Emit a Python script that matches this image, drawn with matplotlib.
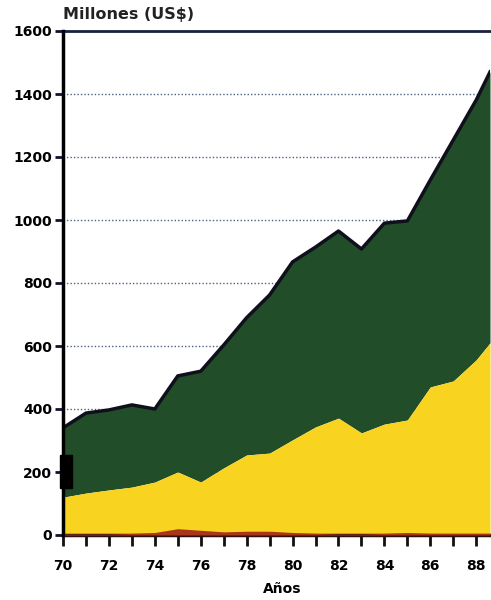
import matplotlib
matplotlib.use("Agg")
import matplotlib.pyplot as plt
import numpy as np

years = [70, 71, 72, 73, 74, 75, 76, 77, 78, 79, 80, 81, 82, 83, 84, 85, 86, 87, 88, 88.6]
total = [340, 387, 397, 413, 400, 505, 520, 603, 690, 762, 867, 914, 965, 908, 990, 997, 1127, 1254, 1381, 1470]
yellow_top = [120, 133, 143, 152, 168, 200, 168, 213, 254, 260, 302, 343, 371, 324, 352, 365, 470, 489, 556, 610]
red = [3, 3, 3, 5, 8, 20, 15, 10, 12, 12, 8, 5, 3, 3, 5, 8, 5, 5, 5, 5]

yticks = [0, 200, 400, 600, 800, 1000, 1200, 1400, 1600]
xticks = [70, 72, 74, 76, 78, 80, 82, 84, 86, 88]

fig = plt.figure(figsize=(4.91, 6), dpi=100)
ax = fig.add_axes([63/491, 65/600, 427/491, 504/600])

green_c = "#214d28"
yellow_c = "#f8d420"
red_c = "#a8361a"

ax.fill_between(years, yellow_top, total, color=green_c, lw=0, zorder=2)
ax.fill_between(years, 0, yellow_top, color=yellow_c, lw=0, zorder=2)
ax.fill_between(years, 0, red, color=red_c, lw=0, zorder=3)
ax.plot(years, total, color="#10101c", lw=2.5, zorder=4, solid_joinstyle="round")

ax.set_xlim(70, 88.6)
ax.set_ylim(0, 1600)

for y in yticks[1:-1]:
    ax.axhline(y, color="#506080", lw=1.0, ls=(0, (1, 1.5)), zorder=1)

ax.set_yticks(yticks)
ax.set_yticklabels([str(v) for v in yticks], fontsize=10, fontweight="bold")
ax.set_xticks(xticks)
ax.set_xticks(list(range(70, 89)), minor=True)
ax.set_xticklabels([str(v) for v in xticks], fontsize=10, fontweight="bold")

ax.tick_params(axis="y", direction="out", length=6, width=2, pad=2, color="#111133")
ax.tick_params(axis="x", which="both", direction="out", length=8, width=2, pad=9, color="#111111")

ax.spines["right"].set_visible(False)
ax.spines["left"].set_linewidth(2.5)
ax.spines["bottom"].set_linewidth(2.5)
ax.spines["top"].set_linewidth(2.0)
ax.spines["top"].set_color("#1a2040")
ax.spines["left"].set_zorder(5)
ax.spines["bottom"].set_color("#301010")

fig.patches.append(plt.Rectangle((60/491, (600-488)/600), 12/491, 33/600, transform=fig.transFigure, color="black", zorder=10))

fig.text(63/491, 1 - 15/600, "Millones (US$)", fontsize=11.5, fontweight="bold", va="center", ha="left", color="#222222")
fig.text(282/491, 1 - 589/600, "Años", fontsize=10, fontweight="bold", va="center", ha="center")

fig.savefig("out.png", dpi=100)
